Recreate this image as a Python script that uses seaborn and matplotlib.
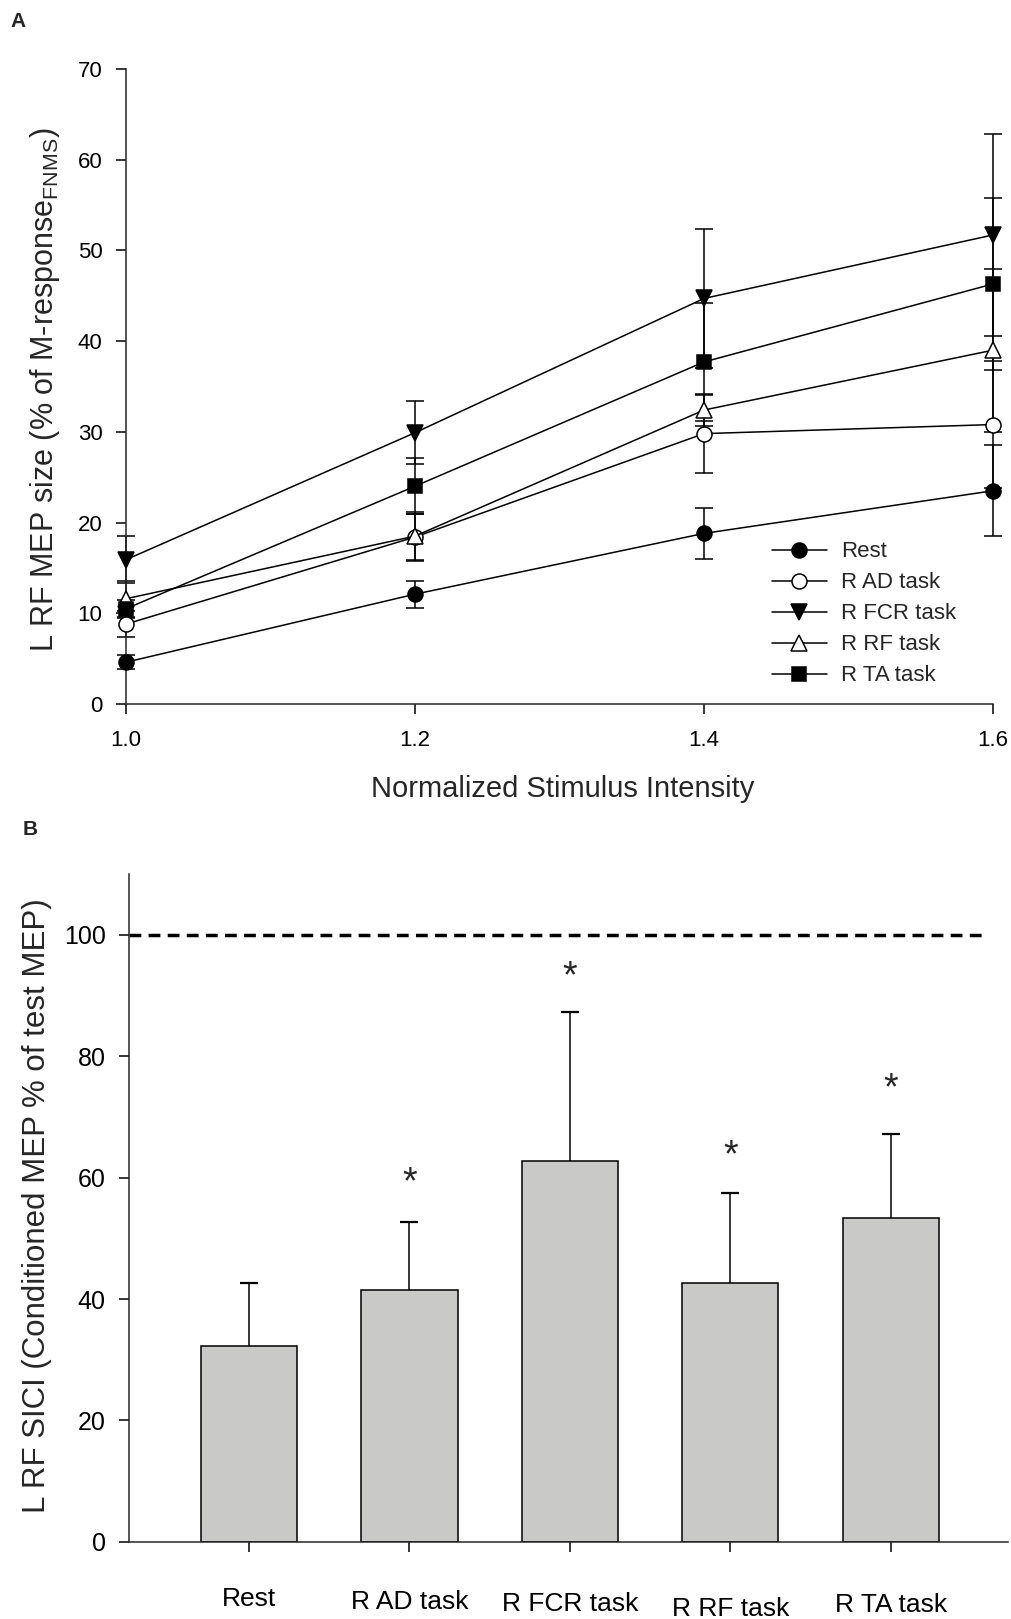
import numpy as np
import pandas as pd
import matplotlib
matplotlib.use("Agg")
import matplotlib.pyplot as plt
import matplotlib.transforms as mtransforms
import seaborn as sns

# ---------------- data ----------------
intensity = [1.0, 1.2, 1.4, 1.6]
conditions = ["Rest", "R AD task", "R FCR task", "R RF task", "R TA task"]

rest_mean = [4.6, 12.1, 18.8, 23.5]
rest_sem = [0.75, 1.5, 2.8, 5.0]
ad_mean = [8.8, 18.4, 29.8, 30.8]
ad_sem = [1.4, 2.5, 4.3, 7.0]
fcr_mean = [15.9, 29.9, 44.7, 51.7]
fcr_sem = [2.6, 3.5, 7.7, 11.1]
rf_mean = [11.6, 18.5, 32.4, 39.0]
rf_sem = [2.0, 2.7, 1.8, 9.0]
ta_mean = [10.5, 24.0, 37.7, 46.3]
ta_sem = [1.0, 3.1, 6.5, 9.5]

sici_mean = [32.3, 41.5, 62.7, 42.6, 53.3]
sici_sem = [10.3, 11.2, 24.5, 14.8, 13.9]
star_y = [None, 61.0, 94.9, 65.4, 76.4]

xticks_a = [1.0, 1.2, 1.4, 1.6]
xticklabels_a = ["1.0", "1.2", "1.4", "1.6"]
yticks_a = [0, 10, 20, 30, 40, 50, 60, 70]
yticks_b = [0, 20, 40, 60, 80, 100]

# ---------------- style ----------------
sns.set_theme(style="ticks")
plt.rcParams["font.family"] = ["Liberation Sans", "DejaVu Sans"]
plt.rcParams["mathtext.fontset"] = "custom"
plt.rcParams["mathtext.rm"] = "Liberation Sans"
plt.rcParams["axes.linewidth"] = 1.1

fig = plt.figure(figsize=(10.12, 16.19), dpi=100)
fig.patch.set_facecolor("white")

# ---------------- panel A ----------------
axA = fig.add_axes([0.1245, 0.5652, 0.8567, 0.3922])
series = [
    ("Rest", rest_mean, rest_sem, "o", "black", 10.8),
    ("R AD task", ad_mean, ad_sem, "o", "white", 10.8),
    ("R FCR task", fcr_mean, fcr_sem, "v", "black", 11.5),
    ("R RF task", rf_mean, rf_sem, "^", "white", 11.5),
    ("R TA task", ta_mean, ta_sem, "s", "black", 10.0),
]
handles = []
for name, m, s, mk, fc, ms in series:
    eb = axA.errorbar(intensity, m, yerr=s, fmt="none", ecolor="black",
                      elinewidth=1.1, capsize=6.8, capthick=1.1, zorder=2)
    for art in eb.lines[1] + eb.lines[2]:
        art.set_clip_on(False)
    sns.lineplot(x=intensity, y=m, ax=axA, color="black", linewidth=1.1,
                 marker=mk, markersize=ms, markerfacecolor=fc,
                 markeredgecolor="black", markeredgewidth=1.1,
                 errorbar=None, label=name, zorder=3, clip_on=False)
    handles.append(axA.lines[-1])

axA.set_xlim(1.0, 1.6)
axA.set_ylim(0, 70)
axA.set_xticks(xticks_a)
axA.set_xticklabels(xticklabels_a)
axA.set_yticks(yticks_a)
axA.tick_params(axis="both", direction="out", length=7, width=1.1,
                labelsize=16, colors="black")
axA.tick_params(axis="x", pad=11.5)
axA.tick_params(axis="y", pad=10)
sns.despine(ax=axA)
axA.set_xlabel("Normalized Stimulus Intensity", fontsize=21)
axA.xaxis.set_label_coords(0.504, -0.112)
axA.set_ylabel(r"L RF MEP size (% of M-response$_{\mathrm{FNMS}}$)", fontsize=22)
axA.yaxis.set_label_coords(-0.074, 0.495)
leg = axA.legend(handles=handles, labels=[s[0] for s in series],
                 loc="upper left", bbox_to_anchor=(0.745, 0.256),
                 frameon=False, fontsize=16, handlelength=2.48,
                 handletextpad=0.63, labelspacing=0.45, borderpad=0,
                 borderaxespad=0)

# ---------------- panel B ----------------
axB = fig.add_axes([0.127, 0.0476, 0.869, 0.4126])
dfB = pd.DataFrame({"cond": conditions, "val": sici_mean})
axB.errorbar(range(len(conditions)), sici_mean, yerr=sici_sem, fmt="none",
             ecolor="black", elinewidth=1.1, capsize=6.5, capthick=1.6,
             zorder=0.9)
sns.barplot(data=dfB, x="cond", y="val", ax=axB, color="#c9c9c7",
            edgecolor="black", linewidth=1.1, width=0.6, errorbar=None,
            saturation=1, zorder=1)
axB.axhline(100, xmin=0, xmax=0.976, color="black", linewidth=2.5,
            dashes=(3.4, 2.1))
for i, y in enumerate(star_y):
    if y is not None:
        axB.annotate("*", xy=(i, y), xytext=(0, -15.5),
                     textcoords="offset points", ha="center",
                     va="baseline", fontsize=27)
axB.set_xlim(-0.75, 4.73)
axB.set_ylim(0, 110)
axB.set_yticks(yticks_b)
axB.tick_params(axis="both", direction="out", length=7, width=1.1,
                colors="black")
axB.tick_params(axis="x", labelsize=19, pad=29)
axB.tick_params(axis="y", labelsize=18, pad=9.5)
sns.despine(ax=axB)
axB.set_xlabel("")
axB.set_ylabel("L RF SICI (Conditioned MEP % of test MEP)", fontsize=22.5)
axB.yaxis.set_label_coords(-0.087, 0.503)

# slight vertical stagger of the category labels, as in the original
label_shift_pt = [3.5, 1.5, 0.0, -3.5, -0.7]
for lbl, dy in zip(axB.get_xticklabels(), label_shift_pt):
    lbl.set_transform(lbl.get_transform() +
                      mtransforms.ScaledTranslation(0, dy / 72,
                                                    fig.dpi_scale_trans))

fig.text(10 / 1012, 1 - 12 / 1619, "A", fontsize=15, fontweight="bold",
         ha="left", va="top")
fig.text(23 / 1012, 1 - 820 / 1619, "B", fontsize=15, fontweight="bold",
         ha="left", va="top")

fig.savefig("out.png", dpi=100, facecolor="white")
